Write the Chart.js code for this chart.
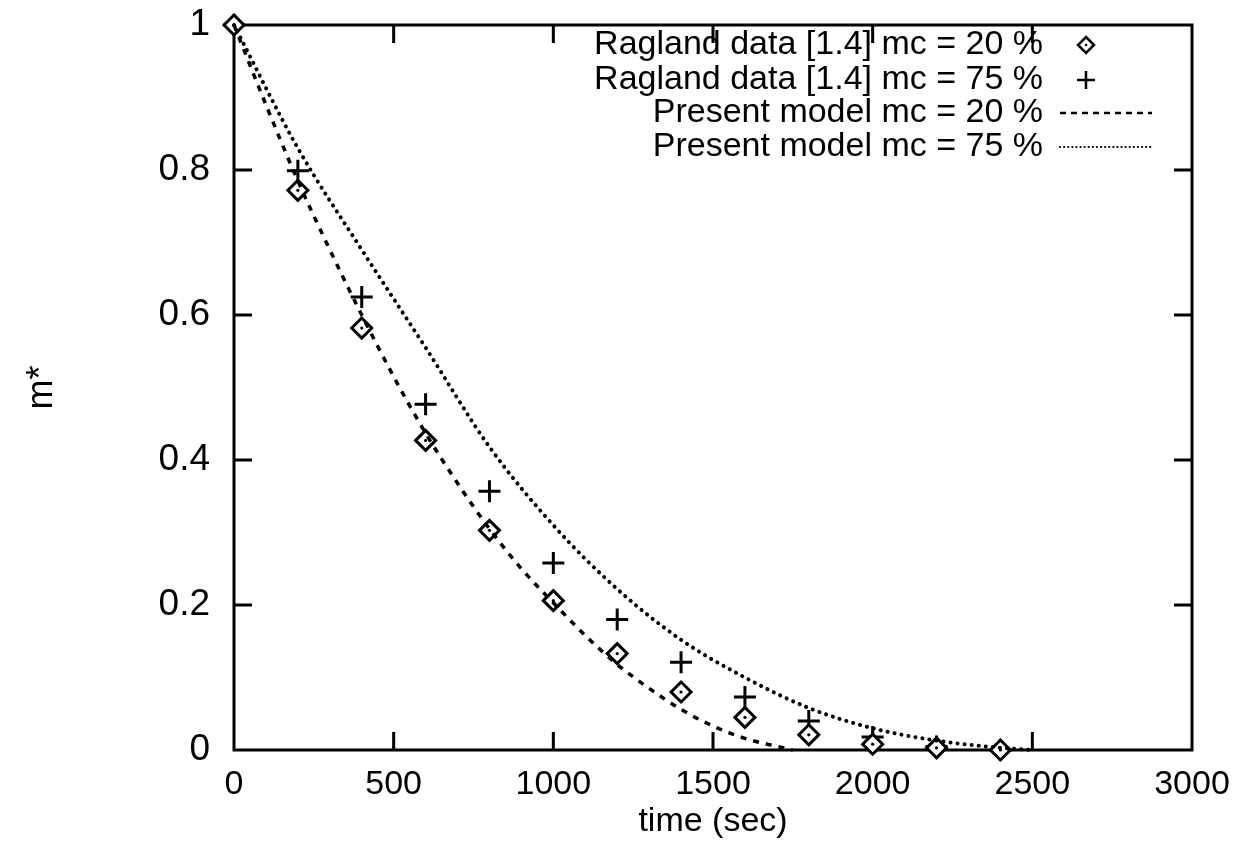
<!DOCTYPE html>
<html>
<head>
<meta charset="utf-8">
<script src="https://cdn.jsdelivr.net/npm/chart.js@4.4.1/dist/chart.umd.min.js"></script>
<style>
html, body { margin: 0; padding: 0; background: #fff; }
</style>
</head>
<body>
<canvas id="myChart" width="1251" height="859"></canvas>
<script>
// Ragland data, every 200 sec
var dataTime = [0, 200, 400, 600, 800, 1000, 1200, 1400, 1600, 1800, 2000, 2200, 2400];
var ragland20 = [1.0, 0.772, 0.582, 0.427, 0.303, 0.206, 0.133, 0.080, 0.045, 0.021, 0.008, 0.003, 0.0];
var ragland75 = [1.0, 0.799, 0.625, 0.477, 0.357, 0.258, 0.180, 0.121, 0.073, 0.040, 0.018, 0.005, 0.0];

// present model curves
var model20Time = [0, 100, 200, 300, 400, 500, 600, 700, 800, 900, 1000, 1100, 1200, 1300, 1400, 1500, 1600, 1700, 1750];
var model20 = [1.0, 0.89, 0.785, 0.69, 0.60, 0.515, 0.437, 0.368, 0.305, 0.25, 0.203, 0.158, 0.118, 0.085, 0.056, 0.033, 0.016, 0.005, 0.0];
var model75Time = [0, 200, 400, 600, 800, 1000, 1200, 1400, 1600, 1800, 2000, 2200, 2400, 2500];
var model75 = [1.0, 0.83, 0.69, 0.555, 0.418, 0.31, 0.222, 0.152, 0.10, 0.058, 0.03, 0.013, 0.003, 0.0];

// axis ticks
var xTicks = [0, 500, 1000, 1500, 2000, 2500, 3000];
var yTicks = [0, 0.2, 0.4, 0.6, 0.8, 1];

var legendLabels = [
  'Ragland data [1.4] mc = 20 %',
  'Ragland data [1.4] mc = 75 %',
  'Present model mc = 20 %',
  'Present model mc = 75 %'
];

function toPoints(xs, ys) {
  return xs.map(function (x, i) { return { x: x, y: ys[i] }; });
}

var fontName = '"Liberation Sans", Arial, Helvetica, sans-serif';

// frame box with inward ticks on all four sides
var framePlugin = {
  id: 'frame',
  beforeDatasetsDraw: function (chart) {
    var ctx = chart.ctx;
    var a = chart.chartArea;
    var xs = chart.scales.x;
    var ys = chart.scales.y;
    var tl = 18;
    ctx.save();
    ctx.strokeStyle = '#000';
    ctx.lineWidth = 3;
    ctx.strokeRect(a.left, a.top, a.right - a.left, a.bottom - a.top);
    ctx.beginPath();
    xTicks.forEach(function (v) {
      if (v <= xs.min || v >= xs.max) return;
      var px = xs.getPixelForValue(v);
      ctx.moveTo(px, a.bottom); ctx.lineTo(px, a.bottom - tl);
      ctx.moveTo(px, a.top); ctx.lineTo(px, a.top + tl);
    });
    yTicks.forEach(function (v) {
      if (v <= ys.min || v >= ys.max) return;
      var py = ys.getPixelForValue(v);
      ctx.moveTo(a.left, py); ctx.lineTo(a.left + tl, py);
      ctx.moveTo(a.right, py); ctx.lineTo(a.right - tl, py);
    });
    ctx.stroke();
    ctx.restore();
  }
};

// small dot in the middle of each diamond, and the legend at top right
var legendPlugin = {
  id: 'sideLegend',
  afterDatasetsDraw: function (chart) {
    var ctx = chart.ctx;
    ctx.save();
    ctx.fillStyle = '#000';
    chart.getDatasetMeta(2).data.forEach(function (pt) {
      ctx.beginPath();
      ctx.arc(pt.x, pt.y, 1.6, 0, Math.PI * 2);
      ctx.fill();
    });

    var textRight = 1043;
    var sampleLeft = 1060, sampleRight = 1152, sampleMid = 1086;
    var rowY = [45, 80, 113, 147];
    ctx.font = '34px ' + fontName;
    ctx.textAlign = 'right';
    ctx.textBaseline = 'middle';
    legendLabels.forEach(function (lab, i) {
      ctx.fillText(lab, textRight, rowY[i]);
    });
    ctx.strokeStyle = '#000';
    // diamond
    ctx.lineWidth = 2.5;
    ctx.beginPath();
    ctx.moveTo(sampleMid, rowY[0] - 8); ctx.lineTo(sampleMid + 8, rowY[0]);
    ctx.lineTo(sampleMid, rowY[0] + 8); ctx.lineTo(sampleMid - 8, rowY[0]);
    ctx.closePath();
    ctx.stroke();
    ctx.beginPath();
    ctx.arc(sampleMid, rowY[0], 1.3, 0, Math.PI * 2);
    ctx.fill();
    // plus
    ctx.beginPath();
    ctx.moveTo(sampleMid - 9, rowY[1]); ctx.lineTo(sampleMid + 9, rowY[1]);
    ctx.moveTo(sampleMid, rowY[1] - 9); ctx.lineTo(sampleMid, rowY[1] + 9);
    ctx.stroke();
    // dashed
    ctx.lineWidth = 2.5;
    ctx.setLineDash([6, 5]);
    ctx.beginPath();
    ctx.moveTo(sampleLeft, rowY[2]); ctx.lineTo(sampleRight, rowY[2]);
    ctx.stroke();
    // dotted
    ctx.lineWidth = 2.2;
    ctx.lineCap = 'round';
    ctx.setLineDash([0.1, 4]);
    ctx.beginPath();
    ctx.moveTo(sampleLeft, rowY[3]); ctx.lineTo(sampleRight, rowY[3]);
    ctx.stroke();
    ctx.restore();
  }
};

var ctx = document.getElementById('myChart').getContext('2d');

var myChart = new Chart(ctx, {
  type: 'scatter',
  data: {
    datasets: [
      {
        label: legendLabels[2],
        data: toPoints(model20Time, model20),
        showLine: true,
        borderColor: '#000',
        borderWidth: 3.5,
        borderDash: [6, 7],
        pointRadius: 0,
        cubicInterpolationMode: 'monotone',
        clip: false
      },
      {
        label: legendLabels[3],
        data: toPoints(model75Time, model75),
        showLine: true,
        borderColor: '#000',
        borderWidth: 4,
        borderDash: [0.1, 7],
        borderCapStyle: 'round',
        pointRadius: 0,
        cubicInterpolationMode: 'monotone',
        clip: false
      },
      {
        label: legendLabels[0],
        data: toPoints(dataTime, ragland20),
        pointStyle: 'rectRot',
        pointRadius: 10,
        pointBorderWidth: 3,
        pointBorderColor: '#000',
        pointBackgroundColor: '#fff',
        clip: false
      },
      {
        label: legendLabels[1],
        data: toPoints(dataTime, ragland75),
        pointStyle: 'cross',
        pointRadius: 11,
        pointBorderWidth: 3,
        pointBorderColor: '#000',
        clip: false
      }
    ]
  },
  options: {
    responsive: false,
    animation: false,
    layout: { autoPadding: false, padding: { top: 25, right: 59, left: 0, bottom: 0 } },
    plugins: {
      legend: { display: false },
      tooltip: { enabled: false }
    },
    scales: {
      x: {
        type: 'linear',
        min: 0,
        max: 3000,
        afterBuildTicks: function (scale) {
          scale.ticks = xTicks.map(function (v) { return { value: v }; });
        },
        afterFit: function (scale) {
          scale.height = 109;
          scale.paddingLeft = 0;
          scale.paddingRight = 0;
        },
        grid: { display: false, drawTicks: false },
        border: { display: false },
        ticks: {
          color: '#000',
          padding: 14,
          maxRotation: 0,
          font: { family: fontName, size: 34 },
          callback: function (v) { return String(v); }
        },
        title: {
          display: true,
          text: 'time (sec)',
          color: '#000',
          font: { family: fontName, size: 34 },
          padding: { top: 0, bottom: 17 }
        }
      },
      y: {
        type: 'linear',
        min: 0,
        max: 1,
        afterBuildTicks: function (scale) {
          scale.ticks = yTicks.map(function (v) { return { value: v }; });
        },
        afterFit: function (scale) {
          scale.width = 234;
          scale.paddingTop = 0;
          scale.paddingBottom = 0;
        },
        grid: { display: false, drawTicks: false },
        border: { display: false },
        ticks: {
          color: '#000',
          padding: 24,
          font: { family: fontName, size: 37 },
          callback: function (v) { return String(v); }
        },
        title: {
          display: true,
          text: 'm*',
          color: '#000',
          font: { family: fontName, size: 36 },
          padding: { top: 20, bottom: 0 }
        }
      }
    }
  },
  plugins: [framePlugin, legendPlugin]
});
</script>
</body>
</html>
